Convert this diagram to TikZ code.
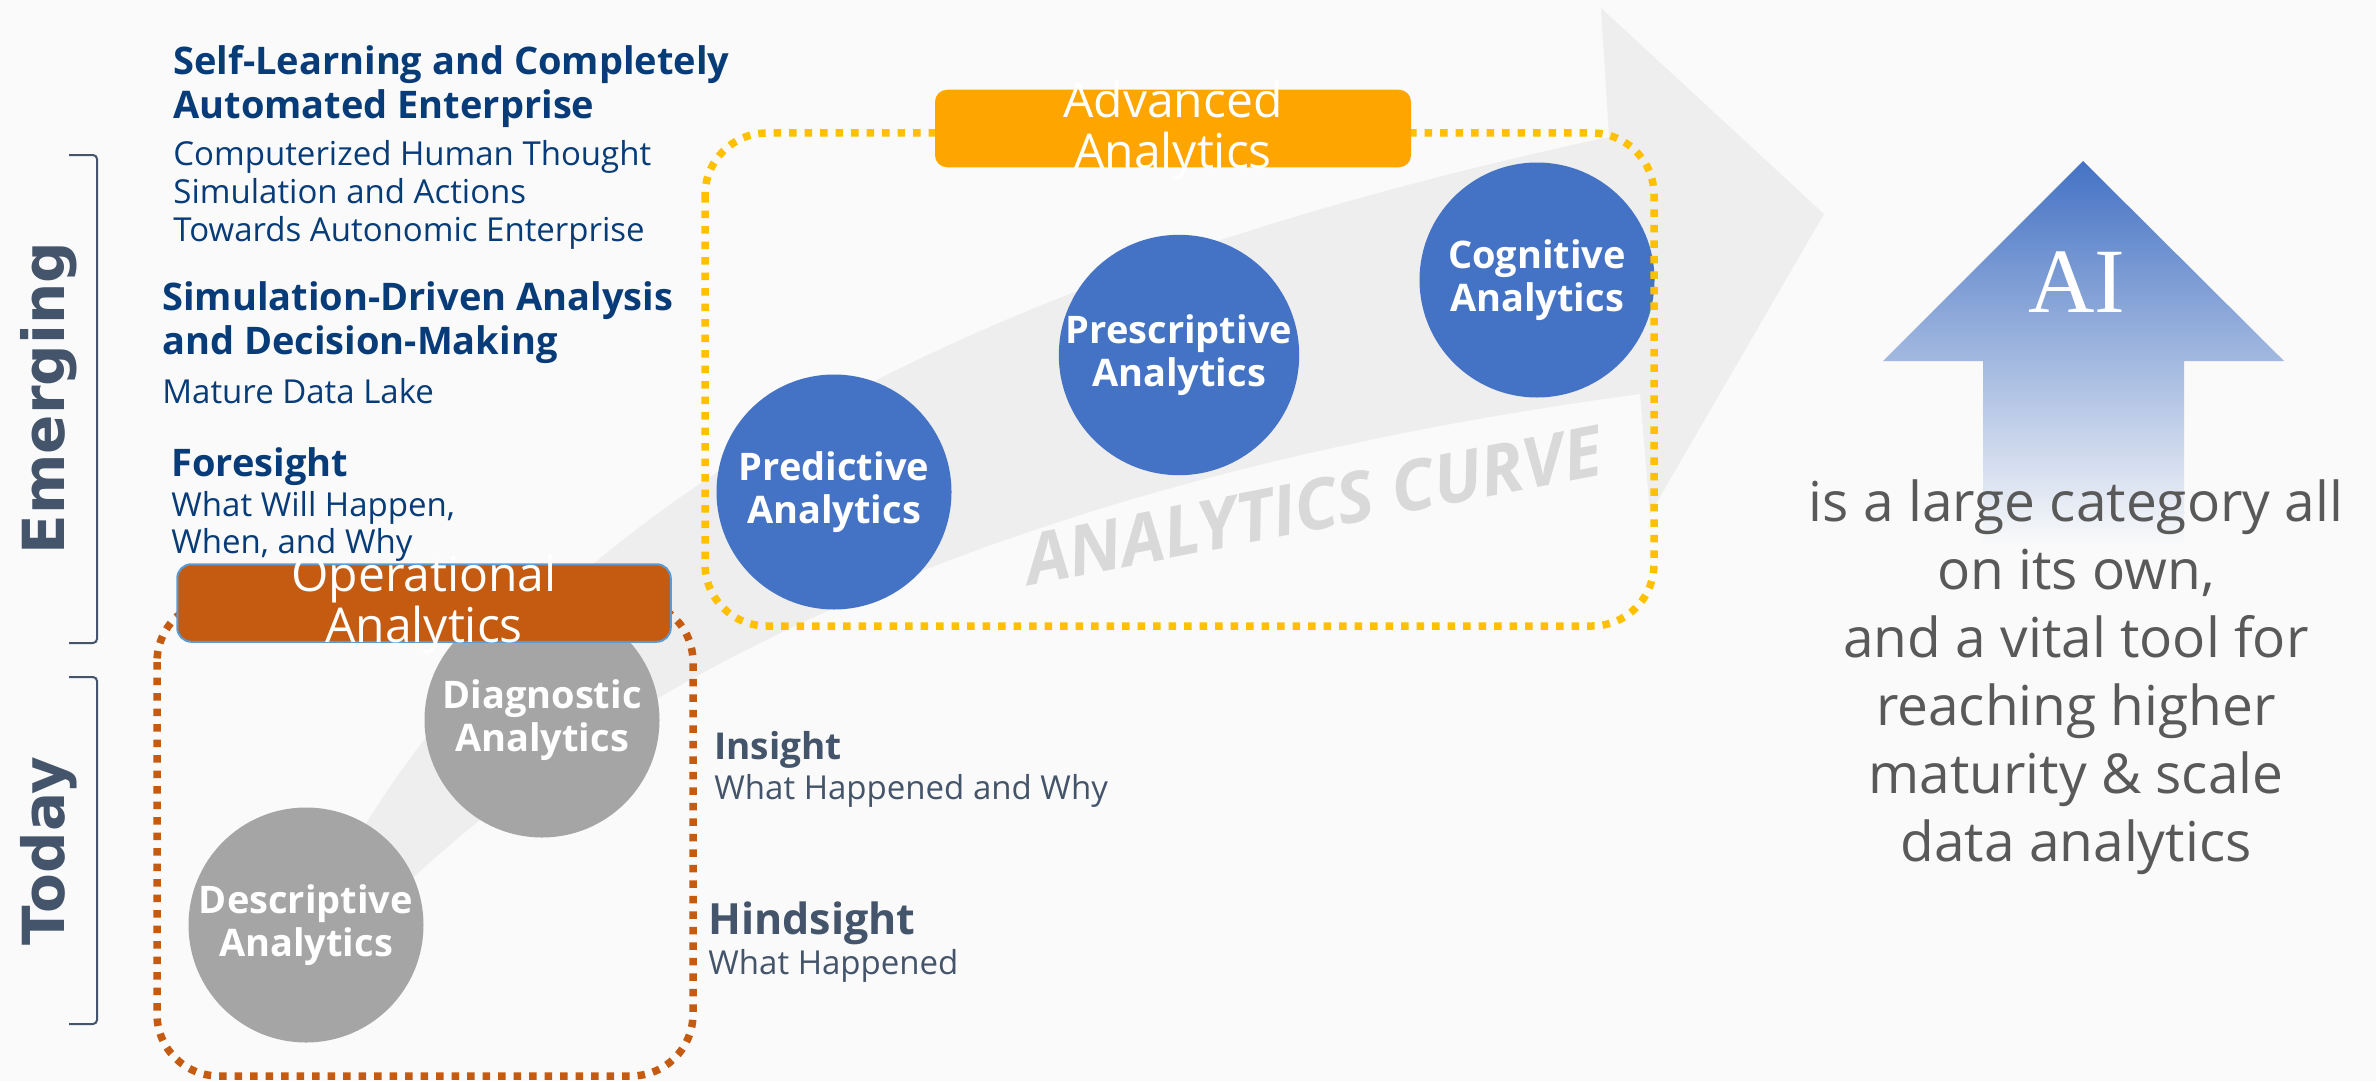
\documentclass[tikz,border=0pt]{standalone}
\usepackage{fontspec}
\setmainfont{Open Sans}
\newfontfamily\sidefont{DejaVu Sans}
\newfontfamily\serifAI{Liberation Serif}
\usepackage{xcolor}
\usepackage{tikz}
\usetikzlibrary{calc}
\usetikzlibrary{positioning}

\definecolor{bgwhite}{HTML}{FAFAFA}
\definecolor{bandgray}{HTML}{EEEEEE}
\definecolor{curvegray}{HTML}{D9D9D9}
\definecolor{navy}{HTML}{073C78}
\definecolor{slate}{HTML}{44546A}
\definecolor{stagegray}{HTML}{A5A5A5}
\definecolor{stageblue}{HTML}{4472C4}
\definecolor{opsorange}{HTML}{C55A11}
\definecolor{advorange}{HTML}{FFA500}
\definecolor{advyellow}{HTML}{FFC000}
\definecolor{boxblue}{HTML}{5B9BD5}
\definecolor{notegray}{HTML}{595959}

\begin{document}
\begin{tikzpicture}[x=0.5pt,y=-0.5pt]
% 1 = one pixel, y runs downwards
% multi-line nodes sit on the baseline of their last line
    \def\STAGESIZE{117.5pt} % diameter of the stage circles
    \def\DOTW{3.75pt}       % width of the dotted frames

    \tikzset{
      stage/.style={circle, minimum size=\STAGESIZE, inner sep=0pt,
        text=white, align=center,
        font=\bfseries\fontsize{19}{21.75}\selectfont},
      today stage/.style={stage, fill=stagegray},
      adv stage/.style={stage, fill=stageblue},
      dotframe/.style={line width=\DOTW, dash pattern=on \DOTW off 4pt,
        rounded corners=31pt},
      groupbox/.style={inner sep=0pt, minimum height=38.75pt},
      boxlabel/.style={inner sep=0pt, text=white, align=center,
        font=\fontsize{24}{25.5}\selectfont},
      heading/.style={anchor=base west, inner sep=0pt, align=left,
        font=\bfseries\fontsize{19}{22}\selectfont},
      subline/.style={anchor=base west, inner sep=0pt, align=left,
        font=\fontsize{16.5}{19}\selectfont},
      sidelabel/.style={rotate=90, anchor=base, inner sep=0pt, text=slate,
        font=\sidefont\bfseries\fontsize{29}{30}\selectfont},
      bracket/.style={draw=slate, line width=1pt, rounded corners=2pt},
    }

    % BACKGROUND
    \useasboundingbox (0,0) rectangle (2376,1081);
    \fill[bgwhite] (0,0) rectangle (2376,1081);

    % CURVED ARROW BEHIND THE STAGES
    \fill[bandgray] (350,850) .. controls (520,560) and (850,300) .. (1609,137)
        -- (1601,8) -- (1824,214) -- (1650,514) -- (1640,394)
        .. controls (1000,480) and (620,680) .. (400,890) -- cycle;
    \node[rotate=11, anchor=base, inner sep=0pt, text=curvegray,
        font=\bfseries\itshape\fontsize{35}{36}\selectfont] (CURVE)
        at (1318,530) {ANALYTICS CURVE};

    % STAGES
    \node[today stage] (DESC) at (306,925) {Descriptive\\Analytics};
    \node[today stage] (DIAG) at (542,720) {Diagnostic\\Analytics};
    \node[adv stage] (PRED) at (834,492) {Predictive\\Analytics};
    \node[adv stage] (PRES) at (1179,355) {Prescriptive\\Analytics};
    \node[adv stage] (COG) at (1537,280) {Cognitive\\Analytics};

    % DOTTED GROUP FRAMES
    \draw[dotframe, opsorange] (157,600) rectangle (693,1076);
    \draw[dotframe, advyellow] (705,133) rectangle (1654,626);

    % GROUP TITLES
    \node[groupbox, fill=opsorange, draw=boxblue, line width=1pt,
        rounded corners=7pt, minimum width=246.75pt] (OPS) at (424,603) {};
    \node[boxlabel] at ($(OPS.center)+(0,2)$) {Operational\\Analytics};
    \node[groupbox, fill=advorange, rounded corners=6pt,
        minimum width=238pt] (ADV) at (1173,128.5) {};
    \node[boxlabel] at ($(ADV.center)+(0,2)$) {Advanced\\Analytics};

    % EMERGING COLUMN
    \node[heading, text=navy] (SELF) at (173,118.6)
        {Self-Learning and Completely\\Automated Enterprise};
    \node[subline, text=navy] (SELFSUB) at (173,241)
        {Computerized Human Thought\\Simulation and Actions\\Towards Autonomic Enterprise};
    \node[heading, text=navy] (SIM) at (162,354)
        {Simulation-Driven Analysis\\and Decision-Making};
    \node[subline, text=navy] (LAKE) at (162,403.7) {Mature Data Lake};
    \node[heading, text=navy] (FORE) at (171,476.5) {Foresight};
    \node[subline, text=navy, font=\fontsize{16.5}{18.2}\selectfont] (FORESUB)
        at (171,553) {What Will Happen,\\When, and Why};

    % TODAY COLUMN
    \node[heading, text=slate, font=\bfseries\fontsize{18.5}{22}\selectfont]
        (INS) at (714,759) {Insight};
    \node[subline, text=slate] (INSSUB) at (714,799) {What Happened and Why};
    \node[heading, text=slate, font=\bfseries\fontsize{21.5}{24}\selectfont]
        (HIND) at (708,934) {Hindsight};
    \node[subline, text=slate] (HINDSUB) at (708,974) {What Happened};

    % SIDE BRACKETS
    \draw[bracket] (69,155) -- (97,155) -- (97,643) -- (69,643);
    \draw[bracket] (69,677) -- (97,677) -- (97,1024) -- (69,1024);
    \node[sidelabel] (EMERGE) at (64,398) {Emerging};
    \node[sidelabel] (TODAY) at (64,851) {Today};

    % AI ARROW
    \shade[top color=stageblue, bottom color=bgwhite]
        (2083,161) -- (2284,361) -- (2184,361) -- (2184,545)
        -- (1983,545) -- (1983,361) -- (1883,361) -- cycle;
    \node[anchor=base, inner sep=0pt, text=white,
        font=\serifAI\fontsize{46}{46}\selectfont] (AI) at (2077,312) {AI};
    \node[anchor=base, inner sep=0pt, align=center, text=notegray,
        font=\fontsize{27.5}{34}\selectfont] (NOTE) at (2076,861)
        {is a large category all\\on its own,\\and a vital tool for\\reaching higher\\maturity \& scale\\data analytics};

\end{tikzpicture}
\end{document}
